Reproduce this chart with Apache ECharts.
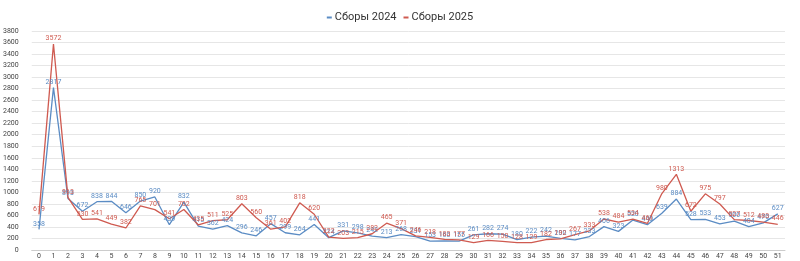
<!DOCTYPE html>
<html><head><meta charset="utf-8">
<script src="https://cdn.jsdelivr.net/npm/echarts@6/dist/echarts.min.js"></script>
<style>html,body{margin:0;padding:0;background:#fff}#c{width:800px;height:261px}</style>
</head><body><div id="c"></div>
<script>
const weeks = Array.from({length: 52}, (_, i) => String(i));
const sbory2024 = [358,2817,893,672,838,844,646,850,920,439,832,415,362,424,296,246,457,299,264,441,214,331,298,242,213,268,231,153,160,155,261,282,274,180,222,242,200,177,233,406,323,520,440,639,884,528,533,453,500,404,470,627];
const sbory2025 = [619,3572,913,530,541,449,382,765,701,541,702,435,511,525,803,560,361,402,818,620,222,203,215,282,465,371,246,218,183,177,129,166,150,128,129,182,192,267,333,538,484,534,461,980,1313,672,975,797,527,512,483,446];
const yTicks = {min: 0, max: 3800, interval: 200};
const blue = '#5b8cc4', red = '#cf5a50';
const chart = echarts.init(document.getElementById('c'));
const mk = (name, data, color) => ({
  name, type: 'line', data, symbol: 'circle', symbolSize: 0.1, showSymbol: true, smooth: false,
  lineStyle: {color, width: 1.3}, itemStyle: {color},
  labelLayout: {hideOverlap: false},
  label: {show: true, position: 'top', distance: 2, color, fontSize: 7, fontFamily: 'Roboto'}
});
chart.setOption({
  animation: false,
  legend: {top: 7, left: 'center', icon: 'rect', itemWidth: 5, itemHeight: 2, itemGap: 7, itemStyle: {borderWidth: 0},
    textStyle: {color: '#333', fontSize: 11, fontFamily: 'Roboto', padding: [0, 0, 0, -2]},
    data: ['Сборы 2024', 'Сборы 2025']},
  grid: {left: 28, right: 15, top: 31, bottom: 11, containLabel: false},
  xAxis: {type: 'category', data: weeks, boundaryGap: true,
    axisLine: {lineStyle: {color: '#ccc'}}, axisTick: {show: false},
    axisLabel: {color: '#444', fontSize: 7, margin: 3, interval: 0, fontFamily: 'Roboto'}},
  yAxis: {type: 'value', min: yTicks.min, max: yTicks.max, interval: yTicks.interval,
    axisLine: {show: false}, axisTick: {show: false},
    splitLine: {lineStyle: {color: '#e6e6e6'}},
    axisLabel: {color: '#444', fontSize: 7, margin: 13, fontFamily: 'Roboto', formatter: v => String(v)}},
  series: [mk('Сборы 2024', sbory2024, blue), mk('Сборы 2025', sbory2025, red)]
});
</script></body></html>
